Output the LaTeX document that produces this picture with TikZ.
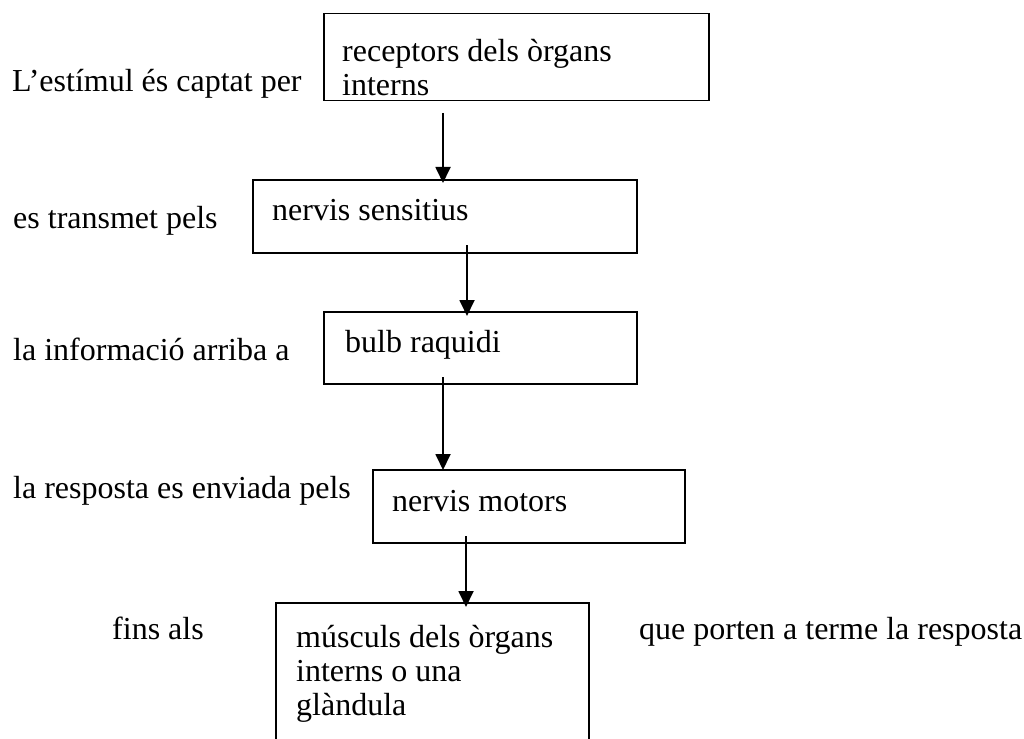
\documentclass[tikz,border=0pt]{standalone}
\usepackage{fontspec}
\setmainfont{Liberation Serif}
\usetikzlibrary{arrows.meta}
\tikzset{
  box/.style={draw, line width=1.5pt, rectangle, inner sep=0pt, anchor=north west},
  txt/.style={inner sep=0pt, anchor=base west, font=\fontsize{32}{34}\selectfont},
  arr/.style={line width=1.8pt, -{Triangle[width=15pt,length=16pt]}}
}
\begin{document}
\begin{tikzpicture}[x=1pt,y=-1pt]
\useasboundingbox (0,0) rectangle (1024,738);
\clip (0,0) rectangle (1024,738);
% boxes
\node[box, minimum width=385pt, minimum height=87pt] (b1) at (323,13) {};
\node[box, minimum width=384pt, minimum height=73pt] (b2) at (252,179) {};
\node[box, minimum width=313pt, minimum height=72pt] (b3) at (323,311) {};
\node[box, minimum width=312pt, minimum height=73pt] (b4) at (372,469) {};
\node[box, minimum width=313pt, minimum height=170pt] (b5) at (275,602) {};
% box texts
\node[txt] (t1) at (342,62) {\begin{tabular}[t]{@{}l@{}}receptors dels òrgans\\interns\end{tabular}};
\node[txt] (t2) at (272,220) {nervis sensitius};
\node[txt] (t3) at (345,352) {bulb raquidi};
\node[txt] (t4) at (392,511) {nervis motors};
\node[txt] (t5) at (296,647) {\begin{tabular}[t]{@{}l@{}}músculs dels òrgans\\interns o una\\glàndula\end{tabular}};
% side labels
\node[txt] (l1) at (12,92) {L’estímul és captat per};
\node[txt] (l2) at (13,228) {es transmet pels};
\node[txt] (l3) at (13,360) {la informació arriba a};
\node[txt] (l4) at (13,498) {la resposta es enviada pels};
\node[txt] (l5) at (112,639) {fins als};
\node[txt] (l6) at (639,639) {que porten a terme la resposta};
% connectors
\coordinate (s1) at (443,113);
\coordinate (s2) at (467,245);
\coordinate (s3) at (443,377);
\coordinate (s4) at (466,536);
\draw[arr] (s1) -- ([yshift=-4pt]s1 |- b2.north);
\draw[arr] (s2) -- ([yshift=-5pt]s2 |- b3.north);
\draw[arr] (s3) -- ([yshift=-1pt]s3 |- b4.north);
\draw[arr] (s4) -- ([yshift=-5pt]s4 |- b5.north);
\end{tikzpicture}
\end{document}
